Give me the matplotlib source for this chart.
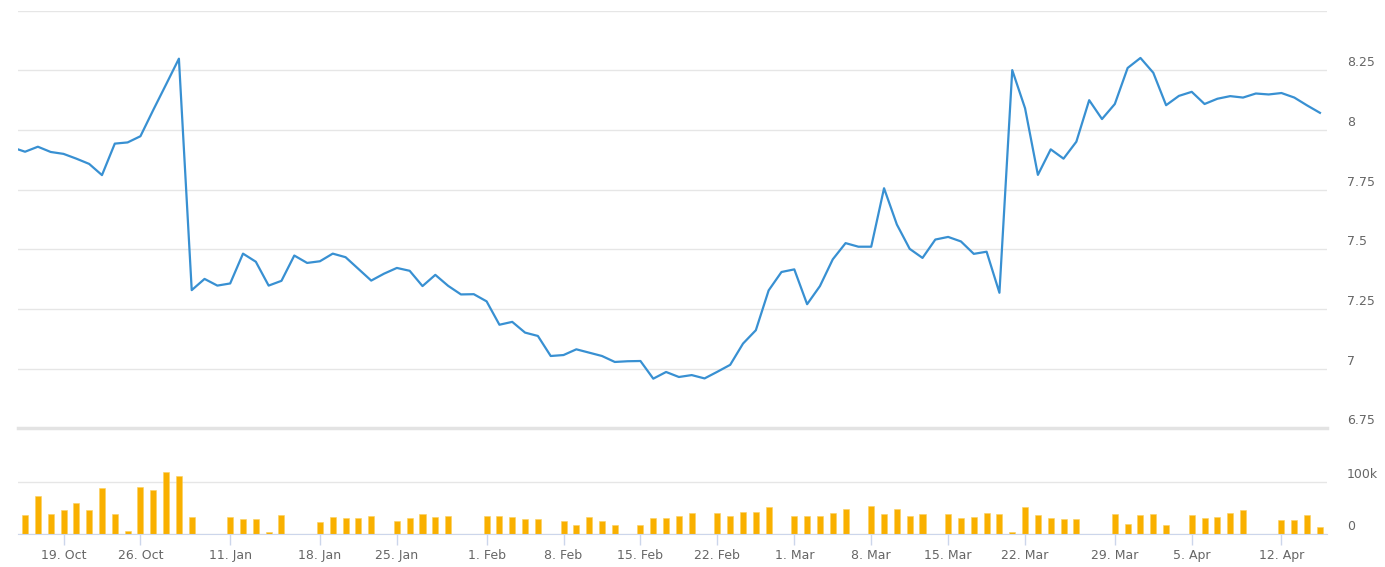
import numpy as np
import matplotlib
matplotlib.use("Agg")
import matplotlib.pyplot as plt
from matplotlib.transforms import ScaledTranslation

# closing values, one per trading point (first one sits just left of the view)
price = [7.927,
         7.909, 7.930, 7.908, 7.900, 7.880, 7.858, 7.811, 7.943, 7.948, 7.974,
         8.084, 8.191, 8.299, 7.329, 7.376, 7.348, 7.357, 7.482, 7.448, 7.348,
         7.368, 7.474, 7.443, 7.450, 7.482, 7.467, 7.418, 7.369, 7.398, 7.422,
         7.410, 7.346, 7.393, 7.347, 7.311, 7.312, 7.282, 7.184, 7.196, 7.151,
         7.137, 7.053, 7.057, 7.081, 7.067, 7.053, 7.028, 7.031, 7.032, 6.958,
         6.986, 6.965, 6.973, 6.959, 6.987, 7.016, 7.105, 7.161, 7.328, 7.405,
         7.416, 7.270, 7.346, 7.458, 7.526, 7.511, 7.511, 7.756, 7.604, 7.502,
         7.464, 7.541, 7.552, 7.533, 7.481, 7.490, 7.318, 8.251, 8.091, 7.812,
         7.919, 7.880, 7.951, 8.125, 8.046, 8.109, 8.260, 8.302, 8.240, 8.104,
         8.143, 8.160, 8.109, 8.131, 8.142, 8.136, 8.153, 8.149, 8.155, 8.136,
         8.103, 8.072]

# volume in thousands
volume_k = [0,
            36, 73, 39, 46, 59, 46, 87, 39, 6, 89,
            84, 118, 111, 32, 0, 0, 32, 29, 29, 4,
            36, 0, 0, 23, 32, 31, 31, 35, 0, 25,
            31, 38, 33, 35, 0, 0, 35, 35, 33, 28,
            28, 0, 25, 18, 33, 25, 18, 0, 18, 31,
            31, 35, 40, 0, 40, 35, 43, 43, 52, 0,
            35, 35, 35, 40, 47, 0, 54, 38, 47, 35,
            38, 0, 38, 31, 33, 40, 38, 3, 51, 36,
            31, 28, 28, 0, 0, 38, 19, 36, 38, 17,
            0, 36, 31, 33, 40, 45, 0, 0, 27, 27,
            36, 13]

tick_pos = [3, 9, 16, 23, 29, 36, 42, 48, 54, 60, 66, 72, 78, 85, 91, 98]
tick_labels = ["19. Oct", "26. Oct", "11. Jan", "18. Jan", "25. Jan", "1. Feb",
               "8. Feb", "15. Feb", "22. Feb", "1. Mar", "8. Mar", "15. Mar",
               "22. Mar", "29. Mar", "5. Apr", "12. Apr"]

price_ticks = [6.75, 7, 7.25, 7.5, 7.75, 8, 8.25, 8.5]
price_tick_labels = ["6.75", "7", "7.25", "7.5", "7.75", "8", "8.25", ""]

x = np.arange(len(price)) - 1
vol = np.array(volume_k) * 1000

W, H = 1385, 567
fig = plt.figure(figsize=(W / 100, H / 100), dpi=100)
left, right = 18 / W, 1327 / W
ax = fig.add_axes([left, 1 - 428.3 / H, right - left, (428.3 - 10.7) / H])
axv = fig.add_axes([left, 1 - 534 / H, right - left, 65.4 / H], sharex=ax)

txt = "#666666"
grid = "#e6e6e6"
off = ScaledTranslation(0, 9 / 100, fig.dpi_scale_trans)

# price pane
ax.plot(x, price, color="#3890d2", lw=1.6, solid_joinstyle="round")
ax.set_ylim(6.75, 8.5)
ax.set_xlim(-0.55, 101.55)
ax.set_yticks(price_ticks)
ax.set_yticklabels(price_tick_labels)
ax.yaxis.tick_right()
ax.tick_params(axis="y", length=0, pad=14.5, labelsize=9, labelcolor=txt)
for lab in ax.get_yticklabels():
    lab.set_transform(lab.get_transform() + off)
    lab.set_horizontalalignment("left")
ax.grid(axis="y", color=grid, lw=1)
ax.tick_params(axis="x", bottom=False, labelbottom=False)
for s in ax.spines.values():
    s.set_visible(False)
ax.axhline(6.75, color="#e3e3e3", lw=2.5, zorder=0, clip_on=False)

# volume pane
axv.bar(x, vol, width=0.47, color="#f9b000", edgecolor="#fbd060", lw=0.4)
axv.set_ylim(0, 125000)
axv.set_yticks([0, 100000])
axv.set_yticklabels(["0", "100k"])
axv.yaxis.tick_right()
axv.tick_params(axis="y", length=0, pad=14.5, labelsize=9, labelcolor=txt)
for lab in axv.get_yticklabels():
    lab.set_transform(lab.get_transform() + off)
    lab.set_horizontalalignment("left")
axv.grid(axis="y", color=grid, lw=1)
axv.set_axisbelow(True)
for s in axv.spines.values():
    s.set_visible(False)
axv.spines["bottom"].set_visible(True)
axv.spines["bottom"].set_color("#ccd6eb")
axv.set_xticks(tick_pos)
axv.set_xticklabels(tick_labels)
axv.tick_params(axis="x", length=8, width=1, color="#ccd6eb", pad=3,
                labelsize=9, labelcolor=txt)

fig.savefig("out.png", dpi=100)
